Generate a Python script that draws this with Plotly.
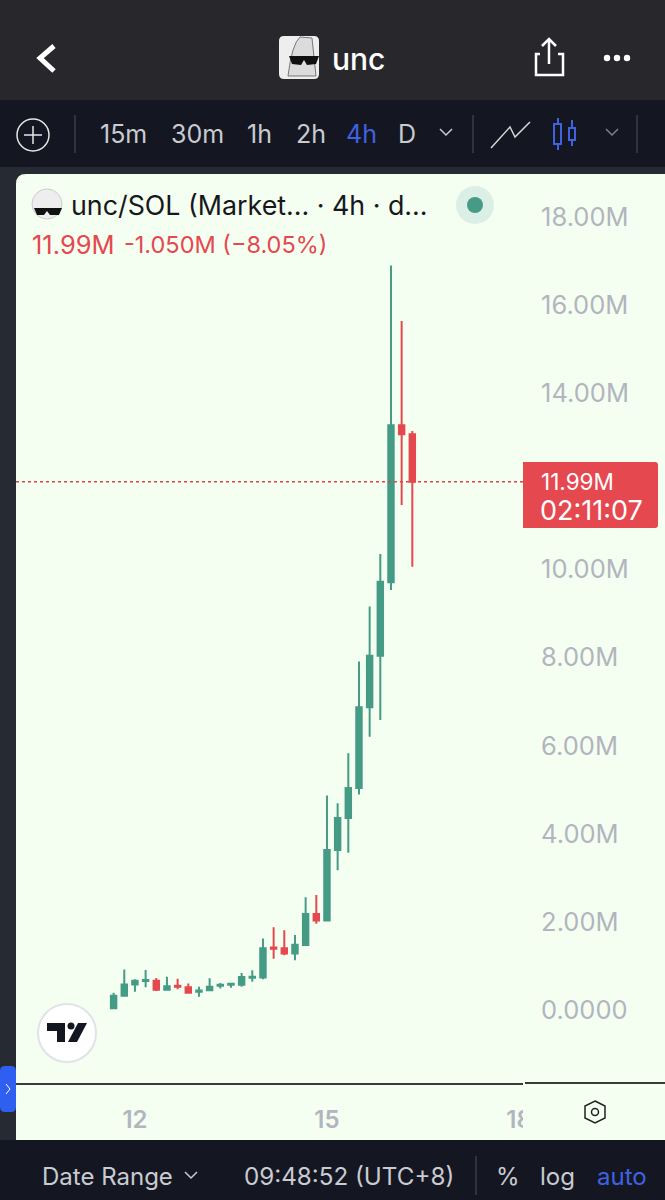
import pandas as pd
import plotly.graph_objects as go

W, H = 665, 1200

# candles, 4h (millions)
opens = [0.04, 0.325, 0.58, 0.66, 0.665, 0.46, 0.552, 0.515, 0.416, 0.447, 0.55, 0.575, 0.575, 0.734, 0.74,
         1.42, 1.40, 1.28, 1.476, 2.18, 2.03, 3.63, 4.36, 5.04, 6.87, 8.04, 9.71, 13.27, 13.07]
highs = [0.39, 0.92, 0.70, 0.91, 0.726, 0.757, 0.71, 0.60, 0.53, 0.72, 0.613, 0.598, 0.84, 0.90, 1.62,
         1.877, 1.81, 1.70, 2.56, 2.61, 4.87, 4.69, 5.83, 7.91, 9.16, 10.35, 16.9, 15.64, 13.14]
lows = [0.04, 0.30, 0.416, 0.515, 0.43, 0.46, 0.47, 0.393, 0.30, 0.447, 0.49, 0.507, 0.53, 0.643, 0.696,
        1.165, 1.24, 1.13, 1.453, 1.96, 2.03, 3.17, 3.57, 4.89, 6.20, 6.58, 9.53, 11.46, 10.06]
closes = [0.325, 0.58, 0.665, 0.68, 0.46, 0.537, 0.53, 0.393, 0.44, 0.53, 0.575, 0.598, 0.75, 0.757, 1.40,
          1.39, 1.28, 1.483, 2.18, 2.03, 3.63, 4.36, 5.04, 6.87, 8.04, 9.72, 13.27, 13.07, 11.99]
times = pd.date_range("2024-09-11 16:00", periods=len(opens), freq="4h")

# 12.00M sits behind the last price box in the reference
price_ticks = [0, 2, 4, 6, 8, 10, 14, 16, 18]
price_labels = ["0.0000", "2.00M", "4.00M", "6.00M", "8.00M", "10.00M", "14.00M", "16.00M", "18.00M"]
day_ticks = ["2024-09-12", "2024-09-15", "2024-09-18"]
day_labels = ["12", "15", "18"]
last_price = 11.99

timeframes = ["15m", "30m", "1h", "2h", "4h", "D"]
timeframe_x = [99, 170, 246, 295, 345, 397]

GREEN = "#459b85"
RED = "#e5484f"
CARD = "#f4fff1"
BAR = "#28282c"
TOOL = "#141722"
SIDE = "#262a33"
GREY = "#b2b5be"
BLUE = "#3f63e0"
FONT = "Inter"


def fx(x):
    return x / W


def fy(y):
    return 1 - y / H


def px_path(d):
    out = []
    toks = d.split()
    i = 0
    while i < len(toks):
        if toks[i].isalpha():
            out.append(toks[i])
            i += 1
        else:
            out.append(f"{fx(float(toks[i])):.5f},{fy(float(toks[i + 1])):.5f}")
            i += 2
    return " ".join(out)


shapes = []
annotations = []


def rect(x0, y0, x1, y1, color, layer="below"):
    shapes.append(dict(type="rect", xref="paper", yref="paper", x0=fx(x0), x1=fx(x1), y0=fy(y0), y1=fy(y1),
                       fillcolor=color, line_width=0, layer=layer))


def path(d, fill=None, line=None, width=2, layer="above"):
    shapes.append(dict(type="path", xref="paper", yref="paper", path=px_path(d),
                       fillcolor=fill or "rgba(0,0,0,0)", line=dict(color=line or "rgba(0,0,0,0)", width=width),
                       layer=layer))


def circle(cx, cy, r, fill=None, line=None, width=2, layer="above"):
    shapes.append(dict(type="circle", xref="paper", yref="paper", x0=fx(cx - r), x1=fx(cx + r),
                       y0=fy(cy + r), y1=fy(cy - r), fillcolor=fill or "rgba(0,0,0,0)",
                       line=dict(color=line or "rgba(0,0,0,0)", width=width), layer=layer))


def label(x, y, text, size, color, anchor="left", weight=400):
    annotations.append(dict(xref="paper", yref="paper", x=fx(x), y=fy(y), text=text, showarrow=False,
                            xanchor=anchor, yanchor="middle", borderpad=0,
                            font=dict(family=FONT, size=size, color=color, weight=weight)))


def chevron(x, y, color, width=1.5):
    path(f"M {x - 6} {y - 3} L {x} {y + 3} L {x + 6} {y - 3}", line=color, width=width)


# page frame
rect(0, 0, W, 100, BAR)
rect(0, 100, W, 167, TOOL)
rect(0, 167, W, 1140, SIDE)
rect(0, 1140, W, H, TOOL)
path(f"M 16 184 Q 16 174 26 174 L {W} 174 L {W} 1140 L 16 1140 Z", fill=CARD, layer="below")

# header
path("M 54 46 L 40 58 L 54 71", line="white", width=5)
path("M 284 36 L 314 36 Q 319 36 319 41 L 319 74 Q 319 79 314 79 L 284 79 Q 279 79 279 74 L 279 41 Q 279 36 284 36 Z",
     fill="#eeeeee")
path("M 288 76 Q 292 44 300 37 L 312 38 L 316 76 Z", fill="#dcdcdc", line="#777777", width=1)
path("M 289 56 L 319 56 L 316 64 L 307 65 L 304 60 L 301 65 L 292 64 Z", fill="#111111")
label(331, 59, "unc", 30, "white", weight=500)
path("M 540 54 L 536 54 L 536 75 L 563 75 L 563 54 L 558 54", line="white", width=2.5)
path("M 549 64 L 549 40 M 542 46 L 549 39 L 556 46", line="white", width=2.5)
circle(607, 58, 3.2, fill="white", width=0)
circle(617, 58, 3.2, fill="white", width=0)
circle(627, 58, 3.2, fill="white", width=0)

# toolbar
circle(33, 135, 16, line="#e6e6e6", width=1.5)
path("M 33 126 L 33 144 M 24 135 L 42 135", line="#e6e6e6", width=1.5)
for sep in [75, 473, 637]:
    path(f"M {sep} 115 L {sep} 153", line="#3a3d48", width=1.5)
for tf, tx in zip(timeframes, timeframe_x):
    label(tx, 134, tf, 25, BLUE if tf == "4h" else "#c9cbd1")
chevron(446, 132, "#c9cbd1")
chevron(612, 132, "#7d808a")
path("M 491 148 L 510 127 L 515 137 L 530 122", line="#d8d8d8", width=1.5)
path("M 558 118 L 558 150 M 572 120 L 572 146", line=BLUE, width=2)
path("M 554 124 L 561 124 L 561 144 L 554 144 Z", fill=TOOL, line=BLUE, width=2)
path("M 569 128 L 575 128 L 575 140 L 569 140 Z", fill=TOOL, line=BLUE, width=2)

# legend
circle(47, 204, 15, fill="#eeeeee", line="#cccccc", width=1)
path("M 34 208 L 62 208 L 59 215 L 50 215 L 47 211 L 44 215 L 37 215 Z", fill="#111111")
label(70, 205, "unc/SOL (Market... · 4h · d...", 26.8, "#17181c")
circle(475, 205, 19, fill="#dcefe6", width=0)
circle(475, 205, 8, fill=GREEN, width=0)
label(31, 245, "11.99M", 25.5, RED)
label(123, 245, "-1.050M (−8.05%)", 23.5, RED)

# last price marker
shapes.append(dict(type="line", xref="paper", yref="y", x0=fx(16), x1=fx(523), y0=last_price, y1=last_price,
                   line=dict(color="#d9474d", width=1.5, dash="dot"), layer="above"))
path("M 523 462 L 655 462 Q 658 462 658 465 L 658 525 Q 658 528 655 528 L 523 528 Z", fill=RED, layer="above")
label(540, 481, "11.99M", 22.5, "white")
label(539, 510, "02:11:07", 27, "white")

# tv logo
circle(67, 1033, 29, fill="white", line="#e0e3e8", width=2)
path("M 47 1023 L 65 1023 L 65 1042 L 57 1042 L 57 1031 L 47 1031 Z", fill="#131722")
circle(71, 1026, 3.5, fill="#131722", width=0)
path("M 78 1023 L 87 1023 L 77 1042 L 68 1042 Z", fill="#131722")

# clipped 18 + rest of the time axis rule
rect(523, 1086, 570, 1138, CARD, layer="above")
path(f"M 525 1083 L {W} 1083", line="#3a3a3a", width=2)
path("M 595 1101 L 605 1106 L 605 1118 L 595 1123 L 585 1118 L 585 1106 Z", line="#222222", width=1.5)
circle(595, 1112, 3.5, line="#222222", width=1.5)
path("M 5 1066 L 11 1066 Q 16 1066 16 1071 L 16 1107 Q 16 1112 11 1112 L 5 1112 Q 0 1112 0 1107 L 0 1071 Q 0 1066 5 1066 Z",
     fill="#2f5ff0")
path("M 6 1084 L 10 1089 L 6 1094", line="white", width=1)

# bottom bar
label(41, 1176, "Date Range", 24, "#c9cbd1")
chevron(191, 1175, "#c9cbd1")
label(243, 1176, "09:48:52 (UTC+8)", 24.2, "#c9cbd1")
path("M 476 1156 L 476 1195", line="#3a3d48", width=1.5)
label(495, 1176, "%", 24, "#c9cbd1")
label(539, 1176, "log", 24, "#c9cbd1")
label(596, 1176, "auto", 24, BLUE)

fig = go.Figure(go.Candlestick(
    x=times, open=opens, high=highs, low=lows, close=closes,
    increasing=dict(line=dict(color=GREEN, width=2), fillcolor=GREEN),
    decreasing=dict(line=dict(color=RED, width=2), fillcolor=RED),
    whiskerwidth=0, hoverinfo="skip",
))

fig.update_layout(
    width=W, height=H, autosize=False,
    margin=dict(l=0, r=0, t=0, b=0),
    paper_bgcolor=SIDE, plot_bgcolor=CARD,
    showlegend=False, boxgap=0.27,
    shapes=shapes, annotations=annotations,
    xaxis=dict(
        domain=[fx(16), fx(523)],
        range=["2024-09-10 03:24", "2024-09-18 01:30"],
        rangeslider=dict(visible=False), automargin=False,
        tickmode="array", tickvals=day_ticks, ticktext=day_labels,
        tickfont=dict(family=FONT, size=24, color=GREY, weight=600),
        ticks="outside", ticklen=14, tickcolor="rgba(0,0,0,0)",
        showgrid=False, zeroline=False, showline=True, linecolor="#3a3a3a", linewidth=2,
    ),
    yaxis=dict(
        domain=[fy(1083), fy(172)],
        range=[-1.657, 19.02], automargin=False,
        side="right", tickmode="array", tickvals=price_ticks, ticktext=price_labels,
        tickfont=dict(family=FONT, size=25.5, color=GREY),
        ticks="outside", ticklen=12, tickcolor="rgba(0,0,0,0)",
        showgrid=False, zeroline=False, showline=False,
    ),
)

fig.write_html("out.html", config=dict(displayModeBar=False, responsive=False),
               post_script="document.body.style.margin='0';document.documentElement.style.overflow='hidden';")
